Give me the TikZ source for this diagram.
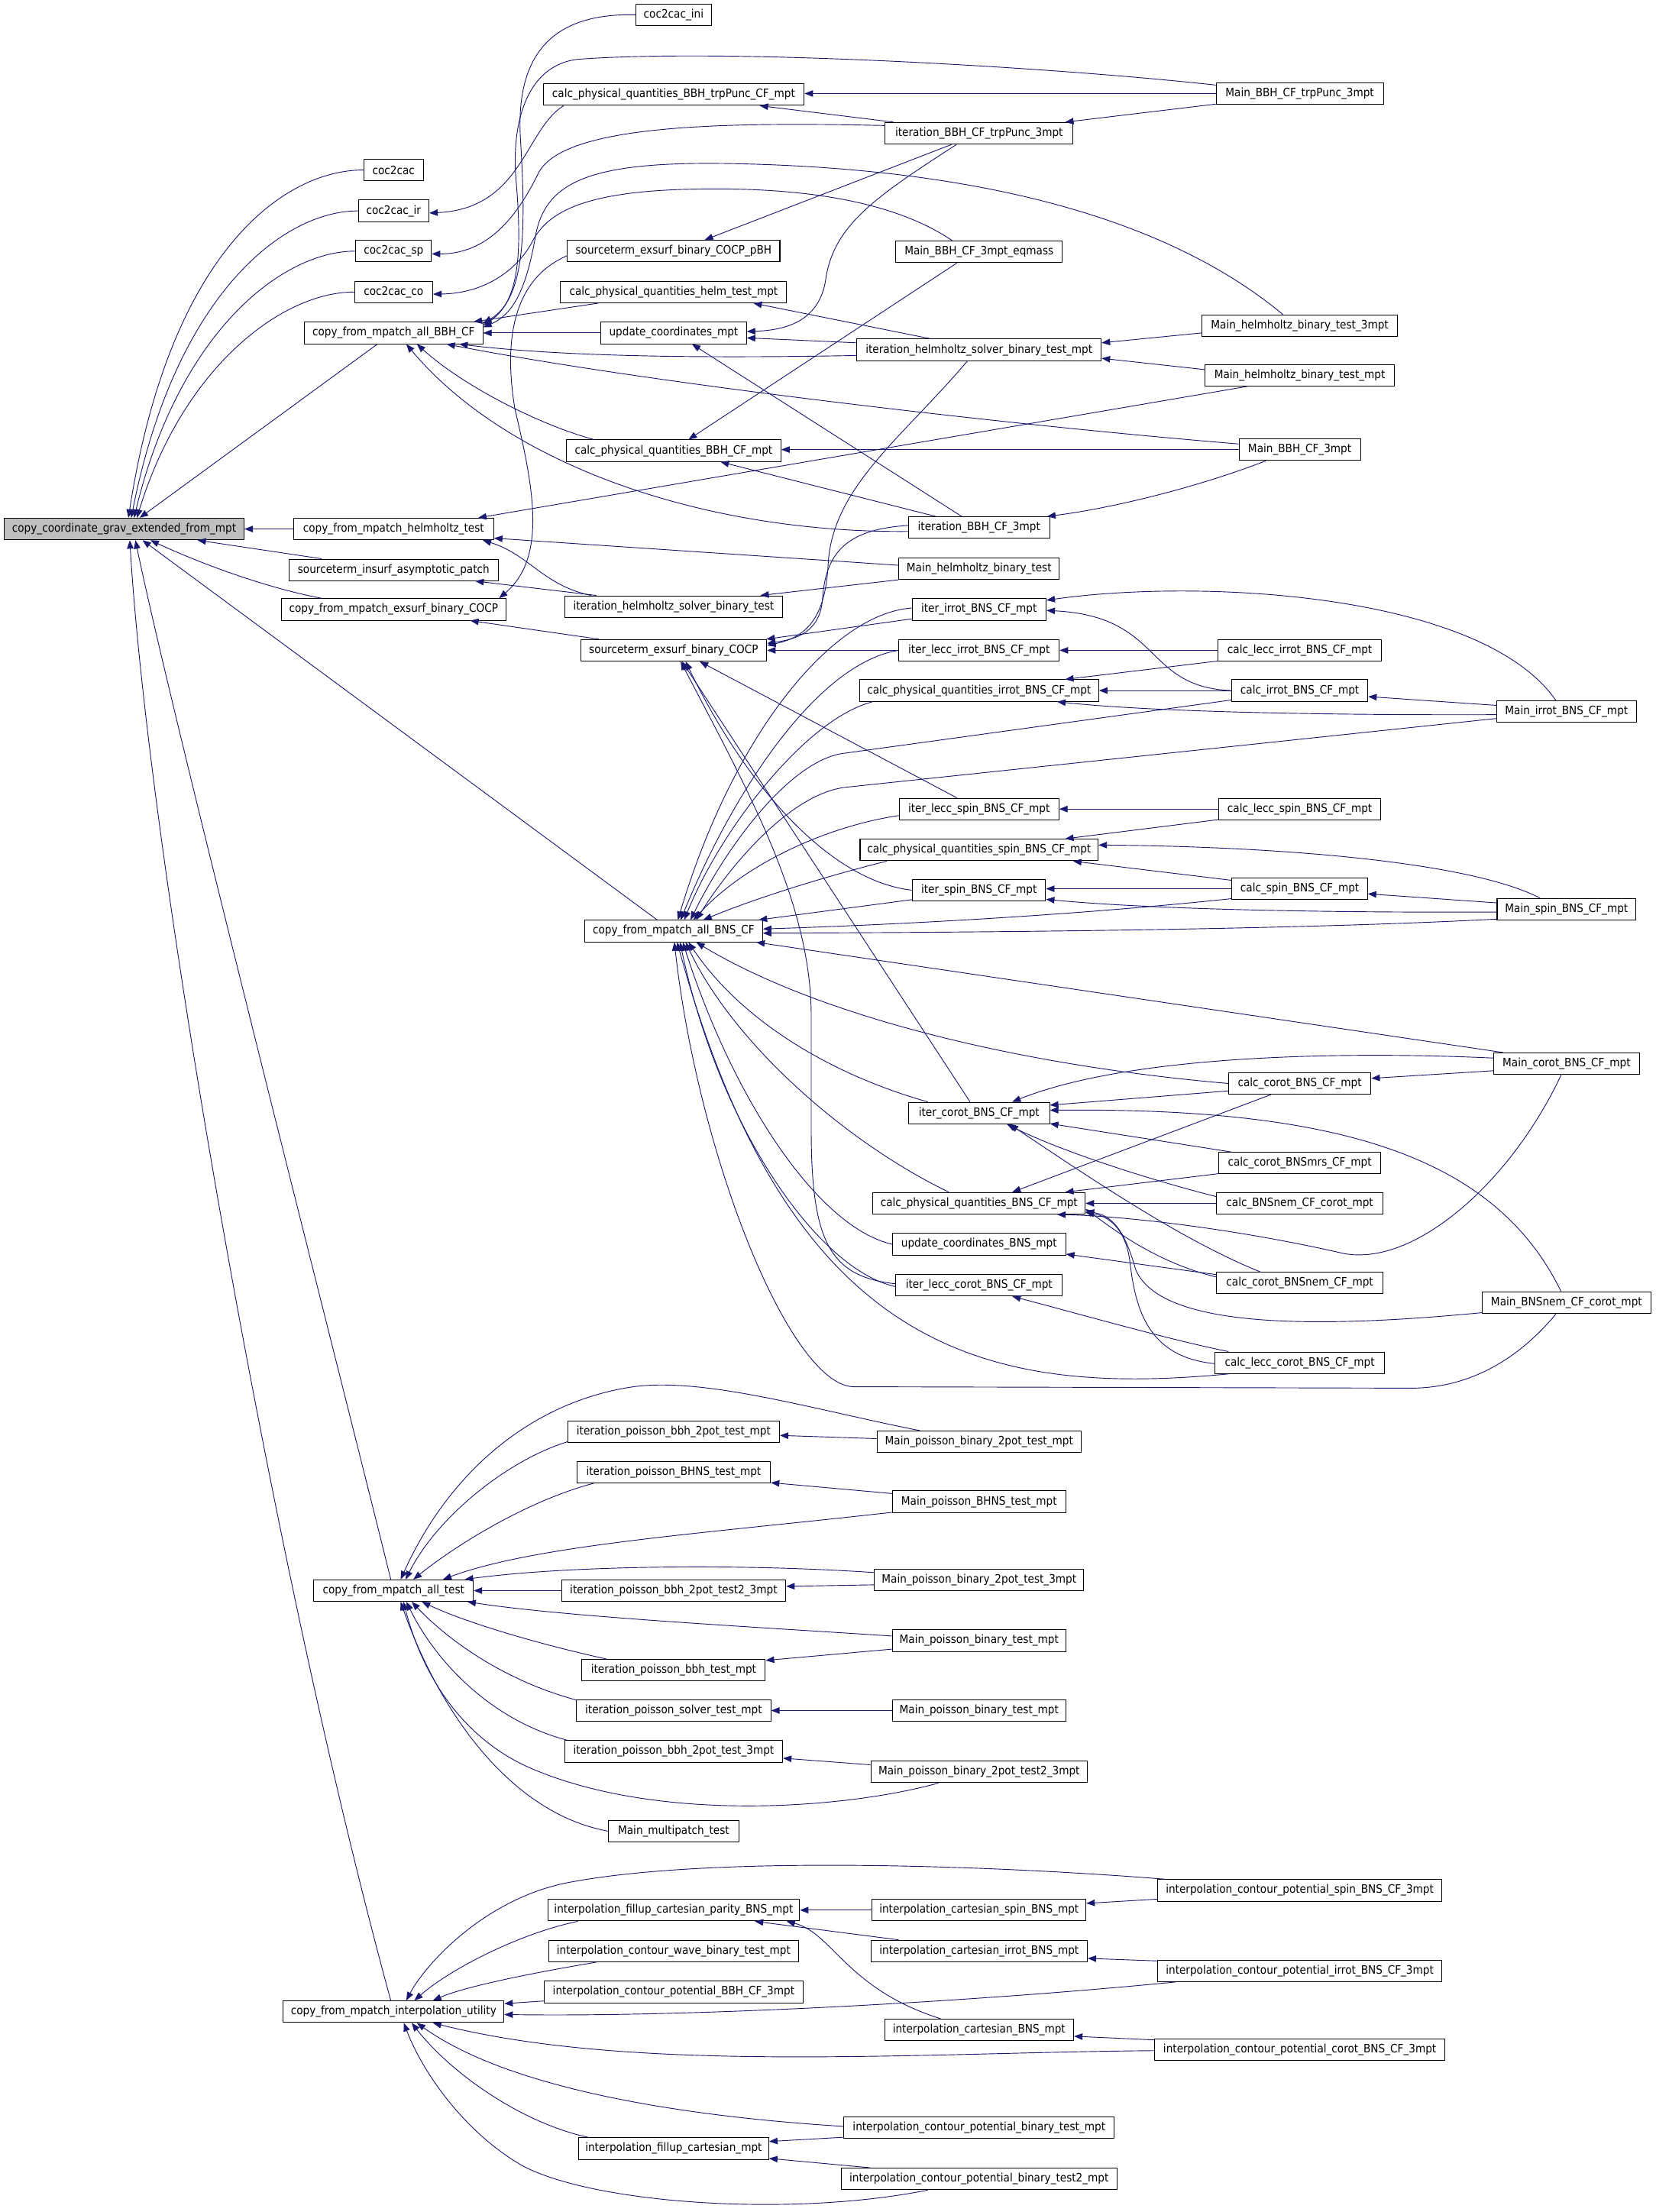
\documentclass[tikz,border=0pt]{standalone}
\usepackage{fontspec}
\newfontfamily\dvs{DejaVu Sans}[FakeStretch=0.9]
\usetikzlibrary{arrows.meta,calc}
\definecolor{edgec}{HTML}{191970}
\definecolor{mainfill}{HTML}{BFBFBF}
\tikzset{
 box/.style={draw=black, line width=0.55pt, fill=white, minimum height=15.3pt, inner xsep=2pt, inner ysep=0pt, font=\dvs\fontsize{8.2}{9}\selectfont, text=black},
 edge/.style={draw=edgec, line width=0.5pt, -{Triangle[length=6pt,width=4.6pt]}},
}
\begin{document}
\begin{tikzpicture}[x=1pt,y=-1pt]
\useasboundingbox[fill=white] (0,0) rectangle (1173.8,1568);
% column 1-2
\node[box,fill=mainfill,minimum width=170pt] (m) at (88,375) {copy\_coordinate\_grav\_extended\_from\_mpt};
\node[box,minimum width=42pt] (c2c) at (279,120.5) {coc2cac};
\node[box,minimum width=50pt] (c2cir) at (279,149.5) {coc2cac\_ir};
\node[box,minimum width=53.5pt] (c2csp) at (279,178) {coc2cac\_sp};
\node[box,minimum width=55.4pt] (c2cco) at (279,207) {coc2cac\_co};
\node[box,minimum width=126.5pt] (bbh) at (279,236) {copy\_from\_mpatch\_all\_BBH\_CF};
\node[box,minimum width=141.8pt] (hlm) at (279,375) {copy\_from\_mpatch\_helmholtz\_test};
\node[box,minimum width=148.2pt] (sia) at (279,404) {sourceterm\_insurf\_asymptotic\_patch};
\node[box,minimum width=159pt] (exs) at (279,432) {copy\_from\_mpatch\_exsurf\_binary\_COCP};
\node[box,minimum width=113pt] (tst) at (279,1127.5) {copy\_from\_mpatch\_all\_test};
\node[box,minimum width=156.4pt] (itp) at (279,1426) {copy\_from\_mpatch\_interpolation\_utility};
% column 3
\node[box,minimum width=53.3pt] (ini) at (477.5,10.5) {coc2cac\_ini};
\node[box,minimum width=185pt] (cpqtp) at (477.5,67) {calc\_physical\_quantities\_BBH\_trpPunc\_CF\_mpt};
\node[box,minimum width=150.6pt] (sepbh) at (477.5,178) {sourceterm\_exsurf\_binary\_COCP\_pBH};
\node[box,minimum width=160.3pt] (cpqhelm) at (477.5,207) {calc\_physical\_quantities\_helm\_test\_mpt};
\node[box,minimum width=103.2pt] (ucm) at (477.5,236) {update\_coordinates\_mpt};
\node[box,minimum width=152pt] (cpqbbh) at (477.5,319.5) {calc\_physical\_quantities\_BBH\_CF\_mpt};
\node[box,minimum width=154pt] (ihsb) at (477.5,430) {iteration\_helmholtz\_solver\_binary\_test};
\node[box,minimum width=132pt] (seb) at (477.5,461) {sourceterm\_exsurf\_binary\_COCP};
\node[box,minimum width=126pt] (bns) at (477.5,660) {copy\_from\_mpatch\_all\_BNS\_CF};
\node[box,minimum width=150pt] (ipbbh2) at (477.5,1015) {iteration\_poisson\_bbh\_2pot\_test\_mpt};
\node[box,minimum width=137.3pt] (ipbhns) at (477.5,1043.5) {iteration\_poisson\_BHNS\_test\_mpt};
\node[box,minimum width=159pt] (ipbbh2t2) at (477.5,1127.5) {iteration\_poisson\_bbh\_2pot\_test2\_3mpt};
\node[box,minimum width=130pt] (ipbbh) at (477.5,1184) {iteration\_poisson\_bbh\_test\_mpt};
\node[box,minimum width=137.7pt] (ipsolv) at (477.5,1212.5) {iteration\_poisson\_solver\_test\_mpt};
\node[box,minimum width=154.5pt] (ipbbh23) at (477.5,1241.5) {iteration\_poisson\_bbh\_2pot\_test\_3mpt};
\node[box,minimum width=92.5pt] (mmp) at (477.5,1298) {Main\_multipatch\_test};
\node[box,minimum width=178.5pt] (ifcp) at (477.5,1354) {interpolation\_fillup\_cartesian\_parity\_BNS\_mpt};
\node[box,minimum width=177.4pt] (icw) at (477.5,1383) {interpolation\_contour\_wave\_binary\_test\_mpt};
\node[box,minimum width=183.3pt] (icpbbh) at (477.5,1412) {interpolation\_contour\_potential\_BBH\_CF\_3mpt};
\node[box,minimum width=134.7pt] (ifc) at (477.5,1523) {interpolation\_fillup\_cartesian\_mpt};
% column 4
\node[box,minimum width=133.2pt] (itp3) at (694,94.5) {iteration\_BBH\_CF\_trpPunc\_3mpt};
\node[box,minimum width=117.9pt] (meq) at (694,178.5) {Main\_BBH\_CF\_3mpt\_eqmass};
\node[box,minimum width=173.2pt] (ihsbm) at (694,248) {iteration\_helmholtz\_solver\_binary\_test\_mpt};
\node[box,minimum width=99.9pt] (ib3) at (694,374) {iteration\_BBH\_CF\_3mpt};
\node[box,minimum width=113.7pt] (mhb) at (694,403) {Main\_helmholtz\_binary\_test};
\node[box,minimum width=95pt] (iirr) at (694,432) {iter\_irrot\_BNS\_CF\_mpt};
\node[box,minimum width=113.7pt] (ilirr) at (694,461) {iter\_lecc\_irrot\_BNS\_CF\_mpt};
\node[box,minimum width=169.5pt] (cpqirr) at (694,489.5) {calc\_physical\_quantities\_irrot\_BNS\_CF\_mpt};
\node[box,minimum width=113pt] (ilspin) at (694,573.5) {iter\_lecc\_spin\_BNS\_CF\_mpt};
\node[box,minimum width=168.7pt] (cpqspin) at (694,602.5) {calc\_physical\_quantities\_spin\_BNS\_CF\_mpt};
\node[box,minimum width=94.3pt] (ispin) at (694,631) {iter\_spin\_BNS\_CF\_mpt};
\node[box,minimum width=99.9pt] (icor) at (694,789) {iter\_corot\_BNS\_CF\_mpt};
\node[box,minimum width=150.4pt] (cpqbns) at (694,853) {calc\_physical\_quantities\_BNS\_CF\_mpt};
\node[box,minimum width=122.7pt] (ucbns) at (694,882) {update\_coordinates\_BNS\_mpt};
\node[box,minimum width=118.2pt] (ilcor) at (694,911) {iter\_lecc\_corot\_BNS\_CF\_mpt};
\node[box,minimum width=144.4pt] (mpb2) at (694,1022) {Main\_poisson\_binary\_2pot\_test\_mpt};
\node[box,minimum width=122.7pt] (mpbhns) at (694,1064.5) {Main\_poisson\_BHNS\_test\_mpt};
\node[box,minimum width=148.5pt] (mpb23) at (694,1120) {Main\_poisson\_binary\_2pot\_test\_3mpt};
\node[box,minimum width=123pt] (mpbt1) at (694,1163) {Main\_poisson\_binary\_test\_mpt};
\node[box,minimum width=123pt] (mpbt2) at (694,1212.5) {Main\_poisson\_binary\_test\_mpt};
\node[box,minimum width=153.4pt] (mpb2t23) at (694,1256) {Main\_poisson\_binary\_2pot\_test2\_3mpt};
\node[box,minimum width=151.5pt] (icspin) at (694,1354) {interpolation\_cartesian\_spin\_BNS\_mpt};
\node[box,minimum width=153.4pt] (icirr) at (694,1383) {interpolation\_cartesian\_irrot\_BNS\_mpt};
\node[box,minimum width=134pt] (icbns) at (694,1439) {interpolation\_cartesian\_BNS\_mpt};
\node[box,minimum width=191.5pt] (icpbt) at (694,1508) {interpolation\_contour\_potential\_binary\_test\_mpt};
\node[box,minimum width=195.7pt] (icpbt2) at (694,1544.5) {interpolation\_contour\_potential\_binary\_test2\_mpt};
% column 5
\node[box,minimum width=118.6pt] (mtp3) at (921.3,66.3) {Main\_BBH\_CF\_trpPunc\_3mpt};
\node[box,minimum width=138.4pt] (mhb3) at (921.3,231) {Main\_helmholtz\_binary\_test\_3mpt};
\node[box,minimum width=134pt] (mhbm) at (921.3,266) {Main\_helmholtz\_binary\_test\_mpt};
\node[box,minimum width=86pt] (mb3) at (921.3,318.7) {Main\_BBH\_CF\_3mpt};
\node[box,minimum width=116pt] (clirr) at (921.3,461) {calc\_lecc\_irrot\_BNS\_CF\_mpt};
\node[box,minimum width=96.5pt] (cirr) at (921.3,489.5) {calc\_irrot\_BNS\_CF\_mpt};
\node[box,minimum width=115pt] (clspin) at (921.3,573.5) {calc\_lecc\_spin\_BNS\_CF\_mpt};
\node[box,minimum width=96pt] (cspin) at (921.3,630) {calc\_spin\_BNS\_CF\_mpt};
\node[box,minimum width=101pt] (ccor) at (921.3,768) {calc\_corot\_BNS\_CF\_mpt};
\node[box,minimum width=115pt] (cmrs) at (921.3,824.5) {calc\_corot\_BNSmrs\_CF\_mpt};
\node[box,minimum width=117.9pt] (cnemc) at (921.3,853) {calc\_BNSnem\_CF\_corot\_mpt};
\node[box,minimum width=117.9pt] (ccnem) at (921.3,909.5) {calc\_corot\_BNSnem\_CF\_mpt};
\node[box,minimum width=120.5pt] (clcor) at (921.3,966) {calc\_lecc\_corot\_BNS\_CF\_mpt};
\node[box,minimum width=201pt] (icpspin) at (921.3,1340) {interpolation\_contour\_potential\_spin\_BNS\_CF\_3mpt};
\node[box,minimum width=201.7pt] (icpirr) at (921.3,1397) {interpolation\_contour\_potential\_irrot\_BNS\_CF\_3mpt};
\node[box,minimum width=205.8pt] (icpcor) at (921.3,1453) {interpolation\_contour\_potential\_corot\_BNS\_CF\_3mpt};
% column 6
\node[box,minimum width=98.7pt] (mirr) at (1110.4,504.5) {Main\_irrot\_BNS\_CF\_mpt};
\node[box,minimum width=98.4pt] (mspin) at (1110.4,644.5) {Main\_spin\_BNS\_CF\_mpt};
\node[box,minimum width=103.3pt] (mcor) at (1110.4,754) {Main\_corot\_BNS\_CF\_mpt};
\node[box,minimum width=119.7pt] (mnem) at (1110.4,923.5) {Main\_BNSnem\_CF\_corot\_mpt};

% ---------- edges into main
\draw[edge] (c2c.west) .. controls (200,120.5) and (120,180) .. ($(m.north)+(3,0)$);
\draw[edge] (c2cir.west) .. controls (200,149.5) and (124,210) .. ($(m.north)+(5,0)$);
\draw[edge] (c2csp.west) .. controls (200,178) and (127,235) .. ($(m.north)+(7,0)$);
\draw[edge] (c2cco.west) .. controls (200,207) and (130,260) .. ($(m.north)+(9,0)$);
\draw[edge] ($(bbh.south)+(-11.5,0)$) -- ($(m.north)+(11,0)$);
\draw[edge] (hlm.west) -- (m.east);
\draw[edge] ($(sia.north)+(-51,0)$) -- ($(m.south)+(52,0)$);
\draw[edge] ($(exs.north)+(-51,0)$) .. controls (195,418) and (150,403) .. ($(m.south)+(18.6,0)$);
\draw[edge] ($(bns.north)+(-11.7,0)$) -- ($(m.south)+(13,0)$);
\draw[edge] ($(tst.north)+(-2,0)$) .. controls (240,970) and (120,500) .. ($(m.south)+(8,0)$);
\draw[edge] ($(itp.north)+(-2,0)$) .. controls (190,1100) and (105,600) .. ($(m.south)+(4,0)$);

% ---------- top-left
\draw[edge] ($(cpqtp.south)+(-78,0)$) .. controls (372,92) and (370,148) .. ($(c2cir.east)+(0,1.5)$);
\draw[edge] ($(itp3.west)+(0,-5.5)$) .. controls (500,86) and (400,90) .. (382,122) .. controls (366,155) and (345,180) .. ($(c2csp.east)+(0,2)$);
\draw[edge] ($(meq.north)+(-19,0)$) .. controls (630,140) and (560,133) .. (496,134) .. controls (420,135) and (390,148) .. (378,170) .. controls (368,190) and (345,208) .. ($(c2cco.east)+(0,1.5)$);
\draw[edge] (ini.west) .. controls (390,9) and (365,40) .. (369,100) .. controls (373,165) and (372,212) .. ($(bbh.north east)+(0,1)$);
\draw[edge] ($(mtp3.west)+(0,-6)$) .. controls (750,48) and (520,34) .. (410,42) .. controls (372,46) and (362,90) .. (366,130) .. controls (370,180) and (368,214) .. ($(bbh.north east)+(0,2.5)$);
\draw[edge] ($(mhb3.north)+(-11.8,0)$) .. controls (840,165) and (720,120) .. (520,116) .. controls (420,114) and (388,128) .. (380,165) .. controls (374,200) and (366,222) .. ($(bbh.east)+(0,-4)$);
\draw[edge] ($(cpqhelm.south)+(-53.5,0)$) -- ($(bbh.north east)+(-6.8,0)$);
\draw[edge] (ucm.west) -- (bbh.east);
\draw[edge] ($(ihsbm.west)+(0,4)$) .. controls (500,254) and (400,253) .. ($(bbh.south east)+(-17,0)$);
\draw[edge] ($(mb3.west)+(0,-4)$) .. controls (700,300) and (450,270) .. ($(bbh.south east)+(-26,0)$);
\draw[edge] ($(cpqbbh.north)+(-56.5,0)$) .. controls (385,302) and (330,275) .. ($(bbh.south)+(16.5,0)$);
\draw[edge] ($(ib3.west)+(0,2.7)$) .. controls (500,378) and (360,330) .. ($(bbh.south)+(9,0)$);

\draw[edge] (mtp3.west) -- ($(cpqtp.east)+(0,-0.7)$);
\draw[edge] ($(itp3.north)+(-60.6,0)$) -- ($(cpqtp.south)+(61,0)$);
\draw[edge] ($(mtp3.west)+(0,7.5)$) -- ($(itp3.north)+(61,0)$);
\draw[edge] ($(itp3.south)+(-19.5,0)$) -- ($(sepbh.north)+(22,0)$);
\draw[edge] ($(itp3.south)+(-16,0)$) .. controls (620,140) and (590,160) .. (585,200) .. controls (580,226) and (560,234) .. ($(ucm.east)+(0,-1)$);
\draw[edge] ($(ihsbm.west)+(0,-5)$) -- ($(ucm.east)+(0,3.5)$);
\draw[edge] ($(ib3.north)+(-12.3,0)$) -- ($(ucm.south)+(13,0)$);
\draw[edge] ($(ihsbm.north)+(-34.5,0)$) -- ($(cpqhelm.south)+(56.5,0)$);
\draw[edge] (mb3.west) -- ($(cpqbbh.east)+(0,-0.8)$);
\draw[edge] ($(ib3.north)+(-30.7,0)$) -- ($(cpqbbh.south)+(33.2,0)$);
\draw[edge] ($(meq.south)+(-15.7,0)$) -- ($(cpqbbh.north)+(10.5,0)$);
\draw[edge] ($(mhb3.west)+(0,5)$) -- ($(ihsbm.east)+(0,-5)$);
\draw[edge] ($(mhbm.west)+(0,-4)$) -- ($(ihsbm.east)+(0,6)$);
\draw[edge] ($(mb3.south)+(-24,0)$) .. controls (850,345) and (790,360) .. ($(ib3.north east)+(-2,0)$);
\draw[edge] ($(mhbm.south)+(-37.3,0)$) -- ($(hlm.north east)+(-11.3,0)$);
\draw[edge] ($(mhb.west)+(0,-2.3)$) -- ($(hlm.east)+(0,6.5)$);
\draw[edge] ($(ihsb.north)+(-58.5,0)$) .. controls (385,415) and (375,393) .. ($(hlm.south east)+(-8,0)$);
\draw[edge] ($(ihsb.north)+(-54.8,0)$) -- ($(sia.south east)+(-16.5,0)$);
\draw[edge] ($(mhb.west)+(0,8)$) -- ($(ihsb.north east)+(-15.8,0)$);
\draw[edge] ($(seb.north)+(-53,0)$) -- ($(exs.south east)+(-25.5,0)$);
\draw[edge] ($(sepbh.west)+(0,3.3)$) .. controls (370,195) and (355,230) .. (365,290) .. controls (378,345) and (388,395) .. ($(exs.north east)+(-5,0)$);

% ---------- into sourceterm_exsurf_binary_COCP
\draw[edge] ($(ib3.west)+(0,-1.5)$) .. controls (600,375) and (585,392) .. (583,425) .. controls (581,448) and (565,453) .. ($(seb.east)+(0,-5)$);
\draw[edge] ($(ihsbm.south)+(-8.3,0)$) .. controls (640,310) and (590,345) .. (587,400) .. controls (585,440) and (570,452) .. ($(seb.east)+(0,-3.5)$);
\draw[edge] ($(iirr.west)+(0,6.7)$) -- ($(seb.north east)+(-0.6,0)$);
\draw[edge] (ilirr.west) -- (seb.east);
\draw[edge] ($(ilspin.north)+(-15.7,0)$) -- ($(seb.south)+(18.5,0)$);
\draw[edge] (ispin.west) .. controls (590,625) and (530,560) .. ($(seb.south)+(8.5,0)$);
\draw[edge] ($(icor.north)+(-6.4,0)$) -- ($(seb.south)+(6,0)$);
\draw[edge] ($(ilcor.west)+(0,-1)$) .. controls (588,905) and (575,880) .. (575,800) -- (575,720) .. controls (575,640) and (530,560) .. ($(seb.south)+(5,0)$);

% ---------- BNS right part
\draw[edge] (cirr.west) .. controls (810,487) and (825,437) .. ($(iirr.east)+(0,0.7)$);
\draw[edge] ($(mirr.north)+(-7.5,0)$) .. controls (1050,420) and (850,410) .. ($(iirr.east)+(0,-6.5)$);
\draw[edge] (clirr.west) -- (ilirr.east);
\draw[edge] ($(clirr.west)+(0,7.6)$) -- ($(cpqirr.north)+(61,0)$);
\draw[edge] (cirr.west) -- (cpqirr.east);
\draw[edge] ($(mirr.west)+(0,2.1)$) .. controls (950,507) and (820,505) .. ($(cpqirr.south)+(55.3,0)$);
\draw[edge] ($(mirr.west)+(0,-4.5)$) -- ($(cirr.east)+(0,4.3)$);
\draw[edge] ($(cirr.west)+(0,6.7)$) -- (598,534) .. controls (560,539) and (515,600) .. ($(bns.north)+(12,0)$);
\draw[edge] ($(mirr.west)+(0,4.8)$) -- (600,558) .. controls (562,562) and (520,610) .. ($(bns.north)+(16,0)$);
\draw[edge] (clspin.west) -- (ilspin.east);
\draw[edge] ($(clspin.west)+(0,7.5)$) -- ($(cpqspin.north)+(61,0)$);
\draw[edge] ($(mspin.north)+(-18.8,0)$) .. controls (1040,610) and (900,600) .. ($(cpqspin.east)+(0,-3.5)$);
\draw[edge] ($(cspin.west)+(0,-6)$) -- ($(cpqspin.south)+(66.6,0)$);
\draw[edge] (cspin.west) -- ($(ispin.east)+(0,-1)$);
\draw[edge] ($(mspin.west)+(0,2)$) .. controls (950,647) and (820,645) .. ($(ispin.east)+(0,6.5)$);
\draw[edge] ($(mspin.west)+(0,-4.5)$) -- ($(cspin.east)+(0,3.6)$);
\draw[edge] ($(cspin.west)+(0,7)$) .. controls (750,650) and (620,656) .. ($(bns.east)+(0,-1.5)$);
\draw[edge] ($(mspin.west)+(0,7)$) .. controls (900,660) and (650,661) .. ($(bns.east)+(0,1.5)$);
\draw[edge] ($(mcor.north)+(-45,0)$) -- ($(bns.south east)+(-4.7,0)$);
\draw[edge] (ccor.west) .. controls (720,755) and (580,720) .. ($(bns.south)+(16,0)$);
\draw[edge] ($(ccor.west)+(0,5.3)$) -- ($(icor.east)+(0,-5.6)$);
\draw[edge] ($(mcor.west)+(0,-4)$) .. controls (950,745) and (800,748) .. ($(icor.north)+(23.5,0)$);
\draw[edge] ($(mcor.west)+(0,5)$) -- ($(ccor.east)+(0,-3.6)$);
\draw[edge] ($(mnem.north)+(-3.8,0)$) .. controls (1060,820) and (950,785) .. ($(icor.east)+(0,-2)$);
\draw[edge] ($(cmrs.north)+(-48.5,0)$) -- ($(icor.east)+(0,7.5)$);
\draw[edge] ($(cnemc.west)+(0,-4.8)$) .. controls (810,835) and (750,815) .. ($(icor.south)+(19.8,0)$);
\draw[edge] ($(ccnem.north)+(-28,0)$) .. controls (840,880) and (780,840) .. ($(icor.south)+(21.7,0)$);
\draw[edge] ($(icor.north)+(-36.3,0)$) .. controls (600,765) and (530,730) .. ($(bns.south)+(10.5,0)$);
\draw[edge] ($(ccor.south)+(-20.4,0)$) -- ($(cpqbns.north)+(23.5,0)$);
\draw[edge] ($(cmrs.west)+(0,7.5)$) -- ($(cpqbns.north)+(61,0)$);
\draw[edge] (cnemc.west) -- (cpqbns.east);
\draw[edge] ($(mcor.south)+(-3.8,0)$) .. controls (1070,840) and (1000,900) .. (950,888) .. controls (880,872) and (800,862) .. ($(cpqbns.south)+(55.3,0)$);
\draw[edge] ($(ccnem.west)+(0,-4.3)$) .. controls (820,895) and (790,872) .. ($(cpqbns.east)+(0,4)$);
\draw[edge] ($(mnem.west)+(0,7)$) .. controls (900,945) and (820,935) .. (805,900) .. controls (798,875) and (790,862) .. ($(cpqbns.east)+(0,5.5)$);
\draw[edge] ($(clcor.west)+(0,0.6)$) .. controls (815,962) and (805,930) .. (801,895) .. controls (798,870) and (785,862) .. ($(cpqbns.east)+(0,6.5)$);
\draw[edge] ($(cpqbns.north)+(-21.4,0)$) .. controls (600,810) and (520,740) .. ($(bns.south)+(8.5,0)$);
\draw[edge] ($(ccnem.west)+(0,-6)$) -- ($(ucbns.east)+(0,7)$);
\draw[edge] (ucbns.west) .. controls (580,870) and (520,780) .. ($(bns.south)+(6.5,0)$);
\draw[edge] ($(ilcor.west)+(0,1)$) .. controls (580,900) and (510,800) .. ($(bns.south)+(4.5,0)$);
\draw[edge] ($(clcor.north)+(-50.4,0)$) .. controls (830,950) and (760,930) .. ($(ilcor.south)+(23.5,0)$);
\draw[edge] ($(clcor.south)+(-50.4,0)$) .. controls (700,990) and (560,960) .. ($(bns.south)+(2.5,0)$);
\draw[edge] ($(mnem.south)+(-7.5,0)$) .. controls (1075,965) and (1040,984) .. (1000,984) -- (605,983) .. controls (560,982) and (495,820) .. ($(bns.south)+(0.5,0)$);
\draw[edge] ($(iirr.west)+(0,-1)$) .. controls (590,435) and (520,520) .. ($(bns.north)+(3,0)$);
\draw[edge] (ilirr.west) .. controls (580,470) and (520,560) .. ($(bns.north)+(5,0)$);
\draw[edge] ($(cpqirr.south)+(-75.4,0)$) .. controls (570,510) and (510,590) .. ($(bns.north)+(7.5,0)$);
\draw[edge] ($(ilspin.west)+(0,4.6)$) .. controls (590,585) and (530,610) .. ($(bns.north)+(14,0)$);
\draw[edge] ($(cpqspin.south)+(-65.4,0)$) .. controls (590,620) and (540,635) .. ($(bns.north)+(21,0)$);
\draw[edge] ($(ispin.west)+(0,6.7)$) -- ($(bns.north east)+(-3,0)$);

% ---------- poisson tests
\draw[edge] ($(mpb2.north)+(-42,0)$) .. controls (580,1000) and (500,976) .. (449,983) .. controls (380,993) and (320,1040) .. ($(tst.north)+(5,0)$);
\draw[edge] ($(ipbbh2.west)+(0,7)$) .. controls (360,1035) and (310,1075) .. ($(tst.north)+(8.5,0)$);
\draw[edge] ($(ipbhns.south)+(-56.6,0)$) .. controls (380,1062) and (330,1090) .. ($(tst.north)+(14,0)$);
\draw[edge] ($(mpbhns.west)+(0,7.5)$) .. controls (500,1087) and (380,1095) .. ($(tst.north)+(35,0)$);
\draw[edge] ($(mpb23.west)+(0,-5.3)$) .. controls (520,1108) and (400,1110) .. ($(tst.north east)+(-6.3,0)$);
\draw[edge] (ipbbh2t2.west) -- (tst.east);
\draw[edge] ($(mpbt1.west)+(0,-3.3)$) .. controls (530,1153) and (400,1146) .. ($(tst.south east)+(-4.5,0)$);
\draw[edge] ($(ipbbh.north)+(-47.3,0)$) .. controls (380,1165) and (330,1150) .. ($(tst.south)+(20,0)$);
\draw[edge] ($(ipsolv.west)+(0,-7.5)$) .. controls (360,1192) and (320,1165) .. ($(tst.south)+(12.8,0)$);
\draw[edge] ($(ipbbh23.north)+(-75.3,0)$) .. controls (350,1220) and (310,1180) .. ($(tst.south)+(9,0)$);
\draw[edge] ($(mpb2t23.south)+(-28.8,0)$) .. controls (600,1282) and (470,1292) .. (380,1255) .. controls (330,1235) and (300,1190) .. ($(tst.south)+(7,0)$);
\draw[edge] (mmp.west) .. controls (360,1285) and (310,1210) .. ($(tst.south)+(5,0)$);
\draw[edge] ($(mpb2.west)+(0,-2.2)$) -- ($(ipbbh2.east)+(0,2.5)$);
\draw[edge] ($(mpbhns.west)+(0,-5.8)$) -- ($(ipbhns.east)+(0,7.5)$);
\draw[edge] ($(mpb23.west)+(0,3.4)$) -- ($(ipbbh2t2.east)+(0,-3)$);
\draw[edge] ($(mpbt1.west)+(0,6)$) -- ($(ipbbh.east)+(0,-7)$);
\draw[edge] (mpbt2.west) -- (ipsolv.east);
\draw[edge] ($(mpb2t23.west)+(0,-5)$) -- ($(ipbbh23.east)+(0,4.8)$);

% ---------- interpolation
\draw[edge] ($(icpspin.north)+(-95.3,0)$) .. controls (700,1322) and (500,1315) .. (400,1335) .. controls (340,1348) and (300,1395) .. ($(itp.north)+(9,0)$);
\draw[edge] ($(ifcp.south)+(-67.8,0)$) .. controls (370,1370) and (320,1395) .. ($(itp.north)+(14.7,0)$);
\draw[edge] ($(icw.south)+(-54.8,0)$) .. controls (380,1398) and (330,1408) .. ($(itp.north)+(27.8,0)$);
\draw[edge] ($(icpbbh.west)+(0,6.4)$) -- ($(itp.east)+(0,-5.7)$);
\draw[edge] ($(icpirr.south)+(-87.8,0)$) .. controls (700,1418) and (500,1430) .. ($(itp.east)+(0,2)$);
\draw[edge] ($(icpcor.west)+(0,0.6)$) .. controls (650,1455) and (450,1470) .. ($(itp.south)+(27.8,0)$);
\draw[edge] ($(icpbt.west)+(0,-0.7)$) .. controls (480,1500) and (360,1480) .. ($(itp.south)+(16.5,0)$);
\draw[edge] ($(ifc.north)+(-60.4,0)$) .. controls (370,1505) and (320,1470) .. ($(itp.south)+(12.8,0)$);
\draw[edge] ($(icpbt2.south)+(-36.3,0)$) .. controls (560,1572) and (420,1562) .. (370,1535) .. controls (330,1512) and (300,1470) .. ($(itp.south)+(7.2,0)$);
\draw[edge] (icspin.west) -- (ifcp.east);
\draw[edge] ($(icirr.north)+(-57,0)$) -- ($(ifcp.south)+(57.5,0)$);
\draw[edge] ($(icbns.north)+(-27,0)$) .. controls (600,1410) and (590,1370) .. ($(ifcp.south)+(80,0)$);
\draw[edge] ($(icpspin.west)+(0,6.2)$) -- ($(icspin.east)+(0,-4.8)$);
\draw[edge] ($(icpirr.west)+(0,-7)$) -- ($(icirr.east)+(0,5.2)$);
\draw[edge] ($(icpcor.west)+(0,-7)$) -- ($(icbns.east)+(0,4.4)$);
\draw[edge] ($(icpbt.west)+(0,7)$) -- ($(ifc.east)+(0,-5)$);
\draw[edge] ($(icpbt2.north)+(-77.5,0)$) -- ($(ifc.east)+(0,7)$);
\end{tikzpicture}
\end{document}
